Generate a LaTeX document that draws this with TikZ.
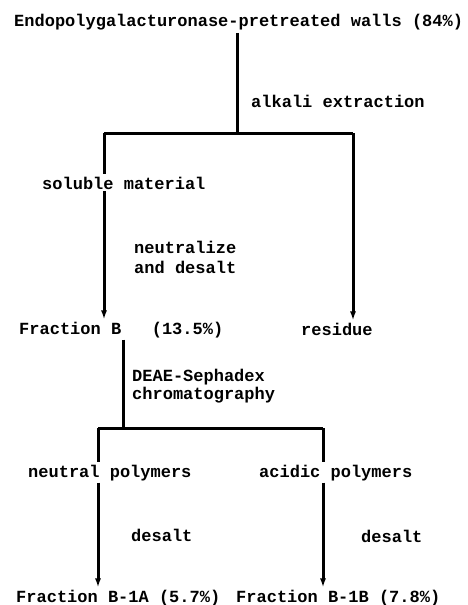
\documentclass[tikz,border=0pt]{standalone}
\usepackage{fontspec}
\setmainfont{Liberation Mono}
\usetikzlibrary{arrows.meta}
\tikzset{
  txt/.style={font=\fontsize{17}{20}\selectfont\bfseries,inner sep=2pt,anchor=base west,align=left},
  flow/.style={line width=3pt},
  flowto/.style={flow,-{Latex[length=9pt,width=6pt]}}
}
\begin{document}
\begin{tikzpicture}[x=1pt,y=-1pt]
                \useasboundingbox (0,0) rectangle (467,605);
                \node[txt] (walls) at (12,27) {Endopolygalacturonase-pretreated walls (84\%)};
                \node[txt] (alk) at (249,107) {alkali extraction};
                \node[txt] (sol) at (40,189) {soluble material};
                \node[txt] (neut) at (132,273) {neutralize\\and desalt};
                \node[txt] (fracB) at (17,334) {Fraction B\ \ \ (13.5\%)};
                \node[txt] (res) at (299,335) {residue};
                \node[txt] (deae) at (130,399) {DEAE-Sephadex\\[-2pt]chromatography};
                \node[txt] (neu) at (26,477) {neutral polymers};
                \node[txt] (aci) at (257,477) {acidic polymers};
                \node[txt] (dsA) at (129,541) {desalt};
                \node[txt] (dsB) at (359,542) {desalt};
                \node[txt] (fA) at (14,602) {Fraction B-1A (5.7\%)};
                \node[txt] (fB) at (234,602) {Fraction B-1B (7.8\%)};
                \coordinate (top) at (237,133);
                \coordinate (topL) at (104,133);
                \coordinate (topR) at (353,133);
                \coordinate (mid) at (123,428);
                \coordinate (midL) at (98,428);
                \coordinate (midR) at (323,428);
                \draw[flow] (walls.south -| top) -- (top);
                \draw[flow] (topL) -- (topR);
                \draw[flow] (topL) -- (sol.north -| topL);
                \draw[flowto] (sol.south -| topL) -- (fracB.north -| topL);
                \draw[flowto] (topR) -- (res.north -| topR);
                \draw[flow] (fracB.south -| mid) -- (mid);
                \draw[flow] (midL) -- (midR);
                \draw[flow] (midL) -- (neu.north -| midL);
                \draw[flow] (midR) -- (aci.north -| midR);
                \draw[flowto] (neu.south -| midL) -- (fA.north -| midL);
                \draw[flowto] (aci.south -| midR) -- (fB.north -| midR);
            \end{tikzpicture}
\end{document}
